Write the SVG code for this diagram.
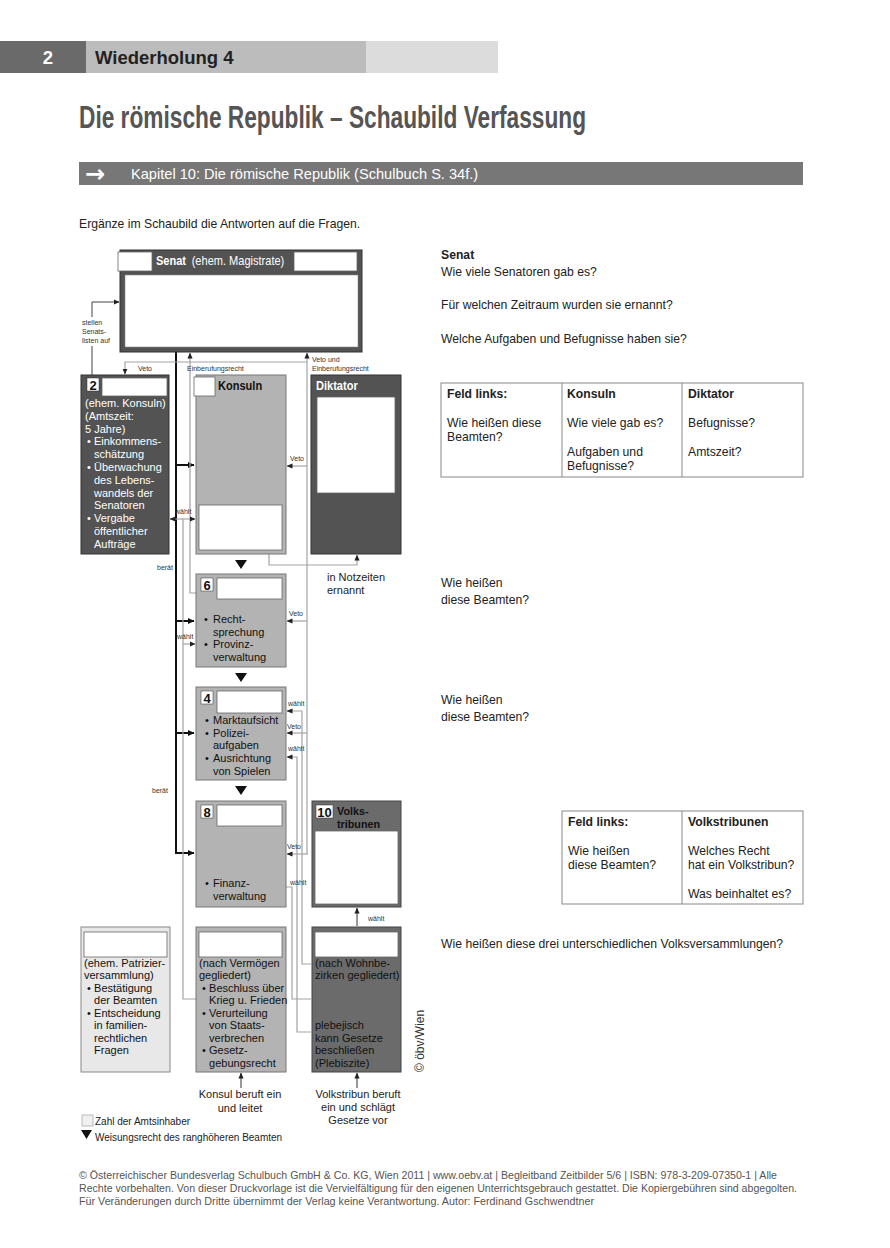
<svg xmlns="http://www.w3.org/2000/svg" width="890" height="1248" viewBox="0 0 890 1248">
<defs>
<style>
.f{font-family:"Liberation Sans",Arial,Helvetica,sans-serif}
.q{font-size:12.2px;fill:#222}
.b{font-weight:bold}
.bt{font-size:11.3px}
.s{font-size:7px;fill:#333}
.w{fill:#fff}
.k{fill:#111}
.gl{fill:none;stroke:#a3a3a3;stroke-width:1.2}
.bl{fill:none;stroke:#111;stroke-width:2}
.wb{fill:#fff;stroke:#666;stroke-width:0.8}
.dk{fill:#535353;stroke:#333;stroke-width:1}
.md{fill:#6b6b6b;stroke:#444;stroke-width:1}
.gr{fill:#b3b3b3;stroke:#777;stroke-width:1}
.lt{fill:#e8e8e8;stroke:#8a8a8a;stroke-width:1}
.tri{fill:#111}
</style>
<marker id="ah" viewBox="0 0 6 6" refX="5.5" refY="3" markerWidth="6" markerHeight="6" markerUnits="userSpaceOnUse" orient="auto-start-reverse"><path d="M0,0.4L6,3L0,5.6z" fill="#222"/></marker>
<marker id="ahb" viewBox="0 0 7 7" refX="6.5" refY="3.5" markerWidth="7" markerHeight="7" markerUnits="userSpaceOnUse" orient="auto"><path d="M0,0.3L7,3.5L0,6.7z" fill="#111"/></marker>
</defs>
<rect width="890" height="1248" fill="#fff"/>

<!-- header -->
<g id="header" class="f">
<rect x="0" y="41" width="86" height="32" fill="#6a6a6a"/>
<rect x="86" y="41" width="280" height="32" fill="#bcbcbc"/>
<rect x="366" y="41" width="132" height="32" fill="#dcdcdc"/>
<text x="48" y="64" class="b w" font-size="18.5" text-anchor="middle">2</text>
<text x="95" y="64" class="b" font-size="18.5" fill="#222">Wiederholung 4</text>
<text x="79" y="128" class="b" font-size="31" fill="#555" textLength="507" lengthAdjust="spacingAndGlyphs">Die römische Republik – Schaubild Verfassung</text>
<rect x="79" y="162" width="724" height="23" fill="#777"/>
<text x="85" y="181.5" class="b w" font-size="24" font-family="DejaVu Sans,sans-serif">→</text>
<text x="131" y="178.5" class="w" font-size="14.6">Kapitel 10: Die römische Republik (Schulbuch S. 34f.)</text>
<text x="79" y="228" class="q" font-size="12.8">Ergänze im Schaubild die Antworten auf die Fragen.</text>
</g>

<!-- connectors -->
<g id="connectors">
<path class="bl" d="M176,352V853H194" marker-end="url(#ahb)"/>
<path class="bl" d="M176,465H194" marker-end="url(#ahb)"/>
<path class="bl" d="M176,621H194" marker-end="url(#ahb)"/>
<path class="bl" d="M176,733H194" marker-end="url(#ahb)"/>
<path class="gl" d="M196,593H190V353" marker-end="url(#ah)"/>
<path class="gl" d="M196,999H183V519"/>
<path class="gl" d="M170,519H195" marker-start="url(#ah)" marker-end="url(#ah)"/>
<path class="gl" d="M183,644H195" marker-end="url(#ah)"/>
<path class="gl" d="M307,854V353" marker-end="url(#ah)"/>
<path class="gl" d="M308,854H287" marker-end="url(#ah)"/>
<path class="gl" d="M307,466H287" marker-end="url(#ah)"/>
<path class="gl" d="M307,621H287" marker-end="url(#ah)"/>
<path class="gl" d="M307,733H287" marker-end="url(#ah)"/>
<path class="gl" d="M307,362H125V374" marker-end="url(#ah)"/>
<path class="gl" d="M311,964H302V711H287" marker-end="url(#ah)"/>
<path class="gl" d="M311,1032H297V757H287" marker-end="url(#ah)"/>
<path class="gl" d="M311,999H292V887H279" marker-end="url(#ah)"/>
<path class="gl" d="M269,554V565H357V555" marker-end="url(#ah)"/>
<path d="M92,375V346M92,317V302H119" fill="none" stroke="#444" stroke-width="1" marker-end="url(#ah)"/>
<path d="M357,926V908" fill="none" stroke="#333" stroke-width="1" marker-end="url(#ah)"/>
<path d="M241,1088V1073" fill="none" stroke="#333" stroke-width="1" marker-end="url(#ah)"/>
<path d="M357,1088V1073" fill="none" stroke="#333" stroke-width="1" marker-end="url(#ah)"/>
<polygon class="tri" points="235,560 247,560 241,569"/>
<polygon class="tri" points="235,673 247,673 241,682"/>
<polygon class="tri" points="235,786 247,786 241,795"/>
<g class="f s">
<text x="82" y="325">stellen</text>
<text x="82" y="334">Senats-</text>
<text x="82" y="343">listen auf</text>
<text x="138" y="371">Veto</text>
<text x="187" y="371">Einberufungsrecht</text>
<text x="312" y="362">Veto und</text>
<text x="312" y="371">Einberufungsrecht</text>
<text x="290" y="461">Veto</text>
<text x="175" y="514">wählt</text>
<text x="157" y="570">berät</text>
<text x="289" y="616">Veto</text>
<text x="177" y="639">wählt</text>
<text x="288" y="706">wählt</text>
<text x="287" y="729">Veto</text>
<text x="288" y="751">wählt</text>
<text x="152" y="793">berät</text>
<text x="287" y="849">Veto</text>
<text x="290" y="885">wählt</text>
<text x="368" y="921">wählt</text>
</g>
</g>

<!-- Senat -->
<g id="senat" class="f">
<rect class="dk" x="120" y="250" width="242" height="102"/>
<rect class="wb" x="118" y="252" width="34" height="19"/>
<rect class="wb" x="294" y="252" width="63" height="19"/>
<rect x="125" y="275" width="233" height="72" fill="#fff" stroke="#888" stroke-width="0.6"/>
<g transform="translate(156,0) scale(0.85,1)" class="w" font-size="13">
<text x="0" y="265" class="b">Senat</text>
<text x="42" y="265">(ehem. Magistrate)</text>
</g>
</g>

<!-- Zensoren -->
<g id="box2" class="f">
<rect class="dk" x="81" y="375" width="88" height="179"/>
<rect x="87" y="378" width="12" height="13" fill="#fff" stroke="#333" stroke-width="0.5"/>
<text x="93" y="389.5" class="b k" font-size="13" text-anchor="middle">2</text>
<rect class="wb" x="102" y="378" width="65" height="18"/>
<g transform="translate(85,0) scale(0.975,1)" class="bt w">
<text x="0" y="407">(ehem. Konsuln)</text>
<text x="0" y="419.8">(Amtszeit:</text>
<text x="0" y="432.6">5 Jahre)</text>
<text x="2" y="445.4">•</text><text x="9.2" y="445.4">Einkommens-</text>
<text x="9.2" y="458.2">schätzung</text>
<text x="2" y="471">•</text><text x="9.2" y="471">Überwachung</text>
<text x="9.2" y="483.8">des Lebens-</text>
<text x="9.2" y="496.6">wandels der</text>
<text x="9.2" y="509.4">Senatoren</text>
<text x="2" y="522.2">•</text><text x="9.2" y="522.2">Vergabe</text>
<text x="9.2" y="535">öffentlicher</text>
<text x="9.2" y="547.8">Aufträge</text>
</g>
</g>

<!-- Konsuln -->
<g id="konsuln" class="f">
<rect class="gr" x="196" y="375" width="90" height="179"/>
<rect class="wb" x="194" y="377" width="21" height="19"/>
<text transform="translate(218,389.5) scale(0.85,1)" class="b k" font-size="13">Konsuln</text>
<rect class="wb" x="199" y="505" width="83" height="45"/>
</g>

<!-- Diktator -->
<g id="diktator" class="f">
<rect class="dk" x="311" y="375" width="90" height="179"/>
<text transform="translate(316,389.5) scale(0.85,1)" class="b w" font-size="13">Diktator</text>
<rect class="wb" x="317" y="397" width="78" height="96"/>
<g transform="translate(327,0) scale(0.975,1)" class="bt" fill="#222">
<text x="0" y="581">in Notzeiten</text>
<text x="0" y="594">ernannt</text>
</g>
</g>

<!-- Praetoren -->
<g id="box6" class="f">
<rect class="gr" x="196" y="574" width="90" height="93"/>
<rect x="201" y="578" width="12" height="13" fill="#fff" stroke="#333" stroke-width="0.5"/>
<text x="207" y="589.5" class="b k" font-size="13" text-anchor="middle">6</text>
<rect class="wb" x="217" y="578" width="65" height="21"/>
<g transform="translate(204,0) scale(0.975,1)" class="bt k">
<text x="0" y="623">•</text><text x="9.2" y="623">Recht-</text>
<text x="9.2" y="635.7">sprechung</text>
<text x="0" y="648.4">•</text><text x="9.2" y="648.4">Provinz-</text>
<text x="9.2" y="661.1">verwaltung</text>
</g>
</g>

<!-- Aedilen -->
<g id="box4" class="f">
<rect class="gr" x="196" y="687" width="90" height="93"/>
<rect x="201" y="691" width="12" height="13" fill="#fff" stroke="#333" stroke-width="0.5"/>
<text x="207" y="702.5" class="b k" font-size="13" text-anchor="middle">4</text>
<rect class="wb" x="217" y="691" width="65" height="22"/>
<g transform="translate(205,0) scale(0.975,1)" class="bt k">
<text x="0" y="724">•</text><text x="8.2" y="724">Marktaufsicht</text>
<text x="0" y="736.7">•</text><text x="8.2" y="736.7">Polizei-</text>
<text x="8.2" y="749.4">aufgaben</text>
<text x="0" y="762.1">•</text><text x="8.2" y="762.1">Ausrichtung</text>
<text x="8.2" y="774.8">von Spielen</text>
</g>
</g>

<!-- Quaestoren -->
<g id="box8" class="f">
<rect class="gr" x="196" y="801" width="90" height="106"/>
<rect x="201" y="805" width="12" height="13" fill="#fff" stroke="#333" stroke-width="0.5"/>
<text x="207" y="816.5" class="b k" font-size="13" text-anchor="middle">8</text>
<rect class="wb" x="217" y="805" width="65" height="21"/>
<g transform="translate(205,0) scale(0.975,1)" class="bt k">
<text x="0" y="887">•</text><text x="8.2" y="887">Finanz-</text>
<text x="8.2" y="899.7">verwaltung</text>
</g>
</g>

<!-- Volkstribunen -->
<g id="box10" class="f">
<rect class="md" x="312" y="801" width="89" height="106"/>
<rect x="316" y="805" width="17" height="13" fill="#fff" stroke="#333" stroke-width="0.5"/>
<text x="324.5" y="816.5" class="b k" font-size="13" text-anchor="middle">10</text>
<g transform="translate(337,0) scale(0.93,1)" class="b k" font-size="11.6">
<text x="0" y="815">Volks-</text>
<text x="0" y="828">tribunen</text>
</g>
<rect class="wb" x="315" y="831" width="83" height="73"/>
</g>

<!-- Comitia curiata -->
<g id="curiata" class="f">
<rect class="lt" x="81" y="927" width="89" height="145"/>
<rect class="wb" x="84" y="932" width="83" height="25"/>
<g transform="translate(84,0) scale(0.975,1)" class="bt k">
<text x="0" y="967">(ehem. Patrizier-</text>
<text x="0" y="979.5">versammlung)</text>
<text x="3.1" y="992">•</text><text x="10.3" y="992">Bestätigung</text>
<text x="10.3" y="1004.5">der Beamten</text>
<text x="3.1" y="1017">•</text><text x="10.3" y="1017">Entscheidung</text>
<text x="10.3" y="1029.5">in familien-</text>
<text x="10.3" y="1042">rechtlichen</text>
<text x="10.3" y="1054.5">Fragen</text>
</g>
</g>

<!-- Comitia centuriata -->
<g id="centuriata" class="f">
<rect class="gr" x="196" y="927" width="90" height="145"/>
<rect class="wb" x="199" y="932" width="83" height="25"/>
<g transform="translate(199,0) scale(0.975,1)" class="bt k">
<text x="0" y="967">(nach Vermögen</text>
<text x="0" y="979.5">gegliedert)</text>
<text x="3.1" y="992">•</text><text x="10.3" y="992">Beschluss über</text>
<text x="10.3" y="1004.5">Krieg u. Frieden</text>
<text x="3.1" y="1017">•</text><text x="10.3" y="1017">Verurteilung</text>
<text x="10.3" y="1029.5">von Staats-</text>
<text x="10.3" y="1042">verbrechen</text>
<text x="3.1" y="1054.5">•</text><text x="10.3" y="1054.5">Gesetz-</text>
<text x="10.3" y="1067">gebungsrecht</text>
</g>
<g transform="translate(240,0) scale(0.975,1)" class="bt" fill="#222" text-anchor="middle">
<text x="0" y="1098">Konsul beruft ein</text>
<text x="0" y="1112">und leitet</text>
</g>
</g>

<!-- Comitia tributa -->
<g id="tributa" class="f">
<rect class="md" x="312" y="927" width="89" height="145"/>
<rect class="wb" x="315" y="932" width="83" height="25"/>
<g transform="translate(315,0) scale(0.975,1)" class="bt k">
<text x="0" y="967">(nach Wohnbe-</text>
<text x="0" y="979.5">zirken gegliedert)</text>
<text x="0" y="1029.5">plebejisch</text>
<text x="0" y="1042">kann Gesetze</text>
<text x="0" y="1054.5">beschließen</text>
<text x="0" y="1067">(Plebiszite)</text>
</g>
<g transform="translate(358,0) scale(0.975,1)" class="bt" fill="#222" text-anchor="middle">
<text x="0" y="1098">Volkstribun beruft</text>
<text x="0" y="1111">ein und schlägt</text>
<text x="0" y="1124">Gesetze vor</text>
</g>
<text transform="translate(424,1072) rotate(-90)" class="f" font-size="12" fill="#333">© öbv/Wien</text>
</g>

<!-- legend -->
<g id="legend" class="f">
<rect x="82" y="1115" width="11" height="11" fill="#f0f0f0" stroke="#aaa" stroke-width="0.8"/>
<text x="95" y="1125" font-size="10" fill="#222">Zahl der Amtsinhaber</text>
<polygon class="tri" points="81,1130 92,1130 86.5,1139"/>
<text x="95" y="1141" font-size="10" fill="#222">Weisungsrecht des ranghöheren Beamten</text>
</g>

<!-- questions -->
<g id="questions" class="f q">
<text x="441" y="259" class="b">Senat</text>
<text x="441" y="276">Wie viele Senatoren gab es?</text>
<text x="441" y="309">Für welchen Zeitraum wurden sie ernannt?</text>
<text x="441" y="343">Welche Aufgaben und Befugnisse haben sie?</text>
<rect x="441" y="383" width="362" height="94" fill="none" stroke="#888" stroke-width="1"/>
<line x1="562" y1="383" x2="562" y2="477" stroke="#888"/>
<line x1="682" y1="383" x2="682" y2="477" stroke="#888"/>
<text x="447" y="398" class="b">Feld links:</text>
<text x="567" y="398" class="b">Konsuln</text>
<text x="688" y="398" class="b">Diktator</text>
<text x="447" y="427">Wie heißen diese</text>
<text x="447" y="441">Beamten?</text>
<text x="567" y="427">Wie viele gab es?</text>
<text x="567" y="456">Aufgaben und</text>
<text x="567" y="470">Befugnisse?</text>
<text x="688" y="427">Befugnisse?</text>
<text x="688" y="456">Amtszeit?</text>
<text x="441" y="587">Wie heißen</text>
<text x="441" y="604">diese Beamten?</text>
<text x="441" y="704">Wie heißen</text>
<text x="441" y="721">diese Beamten?</text>
<rect x="562" y="811" width="241" height="93" fill="none" stroke="#888" stroke-width="1"/>
<line x1="682" y1="811" x2="682" y2="904" stroke="#888"/>
<text x="568" y="826" class="b">Feld links:</text>
<text x="688" y="826" class="b">Volkstribunen</text>
<text x="568" y="855">Wie heißen</text>
<text x="568" y="869">diese Beamten?</text>
<text x="688" y="855">Welches Recht</text>
<text x="688" y="869">hat ein Volkstribun?</text>
<text x="688" y="898">Was beinhaltet es?</text>
<text x="441" y="948">Wie heißen diese drei unterschiedlichen Volksversammlungen?</text>
</g>

<!-- footer -->
<g id="footer" class="f" font-size="11" fill="#555">
<text x="79" y="1179" textLength="698" lengthAdjust="spacingAndGlyphs">© Österreichischer Bundesverlag Schulbuch GmbH &amp; Co. KG, Wien 2011 | www.oebv.at | Begleitband Zeitbilder 5/6 | ISBN: 978-3-209-07350-1 | Alle</text>
<text x="79" y="1192" textLength="718" lengthAdjust="spacingAndGlyphs">Rechte vorbehalten. Von dieser Druckvorlage ist die Vervielfältigung für den eigenen Unterrichtsgebrauch gestattet. Die Kopiergebühren sind abgegolten.</text>
<text x="79" y="1205" textLength="515" lengthAdjust="spacingAndGlyphs">Für Veränderungen durch Dritte übernimmt der Verlag keine Verantwortung. Autor: Ferdinand Gschwendtner</text>
</g>
</svg>
